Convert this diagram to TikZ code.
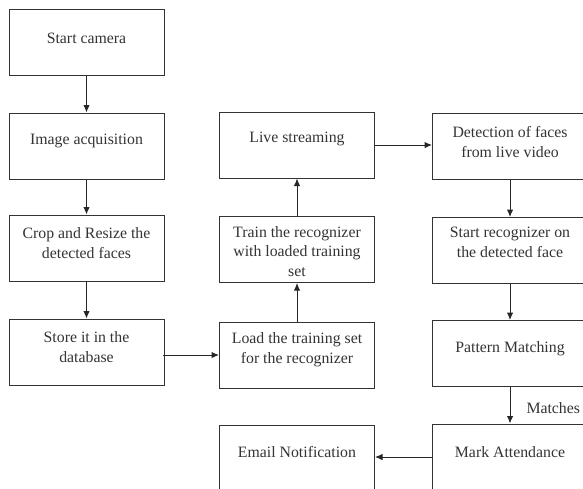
\documentclass[tikz,border=0pt]{standalone}
\usepackage{fontspec}
\setmainfont{Liberation Serif}
\usetikzlibrary{arrows.meta}
\begin{document}
\begin{tikzpicture}[x=1pt,y=-1pt,
  box/.style={draw=black!80, line width=1pt, minimum width=155pt, minimum height=66pt, inner sep=0pt},
  lbl/.style={font=\fontsize{15.8}{19.7}\selectfont, text=black!80, align=center, inner sep=0pt},
  arr/.style={draw=black!85, line width=1pt, -{Latex[length=7.5pt,width=6.5pt]}}]
\useasboundingbox (0,0) rectangle (583,488);
\clip (0,0) rectangle (583,488);
% left column
\node[box] (start) at (86.5,42) {};
\node[lbl] (tstart) at ([yshift=4pt]start.center) {Start camera};
\node[box] (image) at (86.5,146) {};
\node[lbl] (timage) at ([yshift=5pt]image.center) {Image acquisition};
\node[box] (crop) at (86.5,248) {};
\node[lbl] (tcrop) at ([yshift=5pt]crop.center) {Crop and Resize the\\detected faces};
\node[box] (store) at (86.5,352) {};
\node[lbl] (tstore) at ([yshift=5pt]store.center) {Store it in the\\database};
% middle column
\node[box] (live) at (297,145) {};
\node[lbl] (tlive) at ([yshift=6pt]live.center) {Live streaming};
\node[box] (train) at (297,249.5) {};
\node[lbl] (ttrain) at ([yshift=-2pt]train.center) {Train the recognizer\\with loaded training\\set};
\node[box] (load) at (297,355) {};
\node[lbl] (tload) at ([yshift=5pt]load.center) {Load the training set\\for the recognizer};
\node[box] (email) at (297,458) {};
\node[lbl] (temail) at ([yshift=6pt]email.center) {Email Notification};
% right column
\node[box] (det) at (510,146) {};
\node[lbl] (tdet) at ([yshift=4pt]det.center) {Detection of faces\\from live video};
\node[box] (rec) at (510,250.5) {};
\node[lbl] (trec) at ([yshift=8pt]rec.center) {Start recognizer on\\the detected face};
\node[box] (pat) at (510,353.5) {};
\node[lbl] (tpat) at ([yshift=4.5pt]pat.center) {Pattern Matching};
\node[box] (mark) at (510,457) {};
\node[lbl] (tmark) at ([yshift=5pt]mark.center) {Mark Attendance};
% connectors
\draw[arr] (start) -- (image);
\draw[arr] (image) -- (crop);
\draw[arr] (crop) -- (store);
\draw[arr] ([xshift=-2pt]store.east |- load.west) -- (load.west);
\draw[arr] (load) -- (train);
\draw[arr] (train) -- (live);
\draw[arr] (live.east) -- (live.east -| det.west);
\draw[arr] (det) -- (rec);
\draw[arr] (rec) -- (pat);
\draw[arr] (pat) -- node[lbl, anchor=west, xshift=16pt, yshift=-3pt] (matches) {Matches} (mark);
\draw[arr] (mark.west) -- (mark.west -| email.east);
\end{tikzpicture}
\end{document}
